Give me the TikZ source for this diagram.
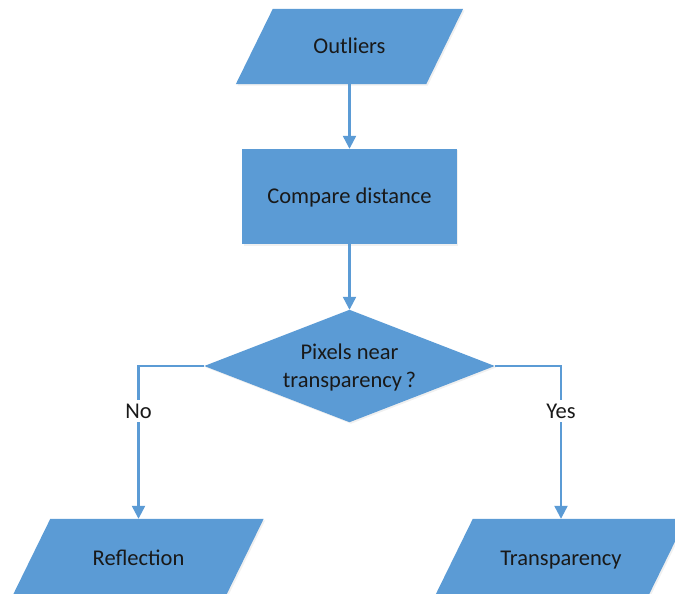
\documentclass[tikz,border=0pt]{standalone}
\usepackage{fontspec}
\setmainfont{Carlito}
\usetikzlibrary{shapes.geometric,arrows.meta,shadows}
\definecolor{ofblue}{HTML}{5B9BD5}
\tikzset{
  boxtext/.style={draw=none, inner sep=0pt, text=black!90, font=\fontsize{22.5}{28}\selectfont, align=center},
  oneline/.style={boxtext, text height=17pt, text depth=3pt},
  shapefill/.style={fill=ofblue, drop shadow={opacity=0.12, shadow xshift=1.5pt, shadow yshift=-1.5pt}},
  flow/.style={draw=ofblue, line width=2.3pt, -{Triangle[length=13pt,width=13pt]}},
  answer/.style={fill=white, inner sep=1pt, text=black!90, font=\fontsize{22.5}{26}\selectfont, text height=17pt, text depth=3pt}
}
\begin{document}
\begin{tikzpicture}[x=1pt,y=-1pt]
\useasboundingbox (0,0) rectangle (675,594);
\clip (0,0) rectangle (675,594);
% nodes
\node[boxtext, minimum width=190pt, minimum height=75pt] (out) at (349.5,46.5) {};
\node[boxtext, minimum width=214pt, minimum height=95pt] (cmp) at (349.5,196.5) {};
\node[boxtext, shape=diamond, minimum width=290pt, minimum height=112pt] (dec) at (349.5,366) {};
\node[boxtext, minimum width=213pt, minimum height=75pt] (refl) at (138.5,556.5) {};
\node[boxtext, minimum width=213pt, minimum height=75pt] (trans) at (561,556.5) {};
% shapes
\fill[shapefill] ([xshift=18.5pt]out.north west) -- ([xshift=18.5pt]out.north east) -- ([xshift=-18.5pt]out.south east) -- ([xshift=-18.5pt]out.south west) -- cycle;
\fill[shapefill] (cmp.north west) rectangle (cmp.south east);
\fill[shapefill] (dec.north) -- (dec.east) -- (dec.south) -- (dec.west) -- cycle;
\fill[shapefill] ([xshift=18.5pt]refl.north west) -- ([xshift=18.5pt]refl.north east) -- ([xshift=-18.5pt]refl.south east) -- ([xshift=-18.5pt]refl.south west) -- cycle;
\fill[shapefill] ([xshift=18.5pt]trans.north west) -- ([xshift=18.5pt]trans.north east) -- ([xshift=-18.5pt]trans.south east) -- ([xshift=-18.5pt]trans.south west) -- cycle;
% texts
\node[oneline] (outT) at (out.center) {Outliers};
\node[oneline] (cmpT) at (cmp.center) {Compare distance};
\node[boxtext] (decT) at ([yshift=-1pt]dec.center) {Pixels near\\transparency\,?};
\node[oneline] (reflT) at ([yshift=-1.5pt]refl.center) {Reflection};
\node[oneline] (transT) at ([yshift=-1.5pt]trans.center) {Transparency};
% connectors
\draw[flow] (out.south) -- (cmp.north);
\draw[flow] (cmp.south) -- (dec.north);
\coordinate (lc) at (refl.north |- dec.west);
\coordinate (rc) at (trans.north |- dec.east);
\draw[flow] (dec.west) -- (lc) -- (refl.north);
\draw[flow] (dec.east) -- (rc) -- (trans.north);
\node[answer] (no) at (138.5,411) {No};
\node[answer] (yes) at (561,411) {Yes};
\end{tikzpicture}
\end{document}
